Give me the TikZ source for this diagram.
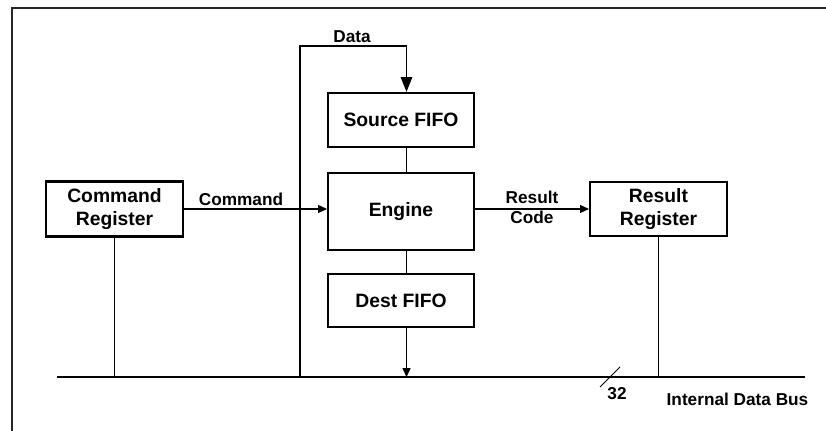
\documentclass[tikz,border=0pt]{standalone}
\usepackage{fontspec}
\setmainfont{Liberation Sans}
\usetikzlibrary{arrows.meta}
\begin{document}
\begin{tikzpicture}[x=0.02cm,y=-0.02cm,
  block/.style={draw,line width=1.2pt,align=center,inner sep=0pt,font=\fontsize{11}{13}\selectfont\bfseries},
  wire/.style={line width=0.6pt},
  sig/.style={wire,-{Triangle[length=5pt,width=4.5pt]}},
  lbl/.style={align=center,inner sep=0pt,font=\fontsize{9.8}{11.5}\selectfont\bfseries}]
\useasboundingbox (0,0) rectangle (826,431);
\draw[line width=1.1pt,black!85] (12,431) -- (12,8) -- (826,8);
\node[block,minimum width=2.74cm,minimum height=1.1cm] (cmdreg) at (114.5,209) {Command\\Register};
\node[block,minimum width=2.92cm,minimum height=1.08cm] (srcfifo) at (401,120) {Source FIFO};
\node[block,minimum width=2.92cm,minimum height=1.54cm] (engine) at (401,211.5) {Engine};
\node[block,minimum width=2.92cm,minimum height=1.06cm] (destfifo) at (401,300.5) {Dest FIFO};
\node[block,minimum width=2.74cm,minimum height=1.08cm] (resreg) at (658.5,209) {Result\\Register};
\coordinate (busL) at (57,377);
\coordinate (busR) at (805,377);
\coordinate (tapdata) at (300,377);
\coordinate (tapfifo) at (406.5,377);
\coordinate (datatop) at (300,46);
\coordinate (w32) at (610,377);
\draw[wire] (busL) -- (busR);
\draw[wire] (w32) ++(-10,10) -- ++(20,-20);
\draw[wire] (tapdata) -- (datatop) -- (datatop -| tapfifo);
\draw[line width=1.1pt,-{Triangle[length=8.5pt,width=6.5pt]}] (datatop -| tapfifo) -- (srcfifo.north -| tapfifo);
\draw[wire] (srcfifo.south -| tapfifo) -- (engine.north -| tapfifo);
\draw[wire] (engine.south -| tapfifo) -- (destfifo.north -| tapfifo);
\draw[sig] (destfifo.south -| tapfifo) -- (tapfifo);
\draw[sig] (cmdreg.east) -- (cmdreg.east -| engine.west);
\draw[sig] (engine.east |- resreg.west) -- (resreg.west);
\draw[wire] (cmdreg.south) -- (cmdreg.south |- busL);
\draw[wire] (resreg.south) -- (resreg.south |- busR);
\node[lbl] (datalbl) at (352,37) {Data};
\node[lbl] (cmdlbl) at (241,199) {Command};
\node[lbl] (codelbl) at (532,207) {Result\\Code};
\node[lbl] (widthlbl) at (617,394) {32};
\node[lbl] (buslbl) at (737.5,399) {Internal Data Bus};
\end{tikzpicture}
\end{document}
